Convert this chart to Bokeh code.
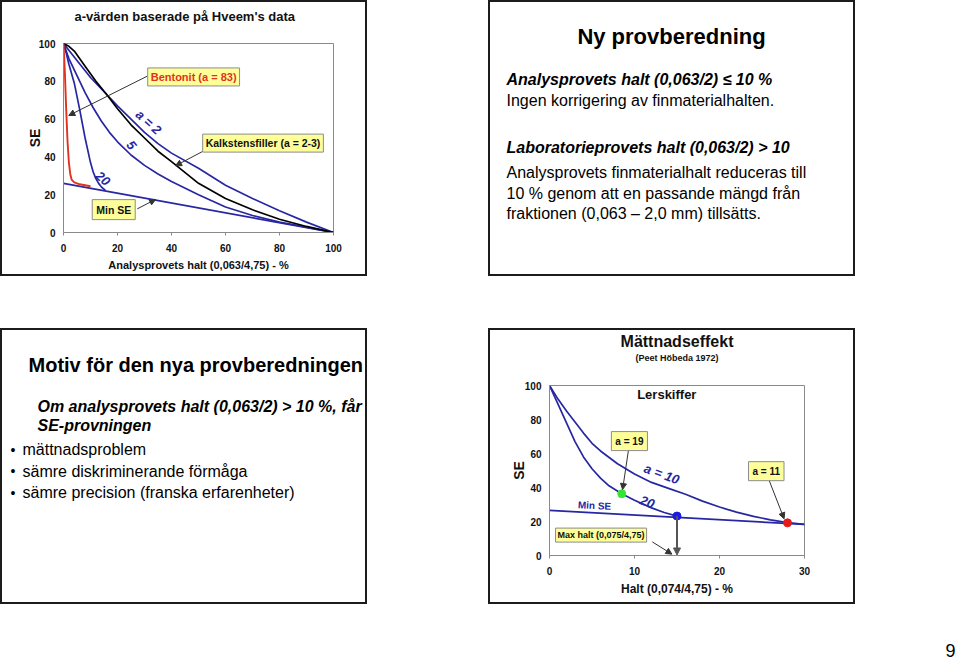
import math
from bokeh.plotting import figure
from bokeh.models import Range1d, Label, Arrow, NormalHead, Spacer, FixedTicker, Title
from bokeh.layouts import row, column
from bokeh.embed import file_html
from bokeh.resources import INLINE
from bokeh.core.properties import value

# ---------------- data: panel A (a-värden, Hveem) ----------------
hveem_ticks = [0, 20, 40, 60, 80, 100]
bentonit_x = [0, 0.5, 1, 1.5, 2, 2.5, 3, 4, 6, 8, 10]
bentonit_y = [100, 85, 65, 48, 37, 31, 28, 26.5, 25.5, 25, 24.5]
a20_x = [0, 1, 2, 4, 6, 8, 10, 11, 12, 13, 14, 15.5]
a20_y = [100, 95, 89, 79, 65, 50, 37, 32, 28.5, 26, 24.2, 22.3]
a5_x = [0, 2, 5, 8, 11, 14, 17, 20, 25, 30, 35, 40, 50, 60, 70, 80, 90, 100]
a5_y = [100, 92, 83, 74, 66, 59, 53, 48, 41, 35.5, 31, 27, 20, 13.5, 9, 5.5, 2.8, 0]
a2_x = [0, 5, 10, 16, 20, 25, 30, 35, 40, 50, 60, 70, 80, 90, 100]
a2_y = [100, 91, 82, 73, 67, 60, 53, 47, 42, 34, 25, 18, 11.5, 5.5, 0]
kalk_x = [0, 2, 4, 8, 12, 16, 20, 25, 30, 35, 40, 50, 60, 70, 80, 90, 100]
kalk_y = [100, 98.5, 96, 88, 80, 73, 65.5, 57, 50, 43, 37.5, 26, 18, 12, 7, 3.2, 0]
minse_a_x = [0, 100]
minse_a_y = [26, 0]

# ---------------- data: panel D (Mättnadseffekt) ----------------
satur_x_ticks = [0, 10, 20, 30]
satur_y_ticks = [0, 20, 40, 60, 80, 100]
l10_x = [0, 1, 2, 3, 4, 5, 6, 8, 10, 12, 14, 16, 18, 20, 22, 24, 26, 28, 30]
l10_y = [100, 92, 85, 78.5, 72, 66, 61.5, 54, 48, 43, 39.5, 36, 32, 28.5, 25.5, 23, 21, 19.3, 18.3]
l20_x = [0, 1, 2, 3, 4, 5, 6, 7, 8.5, 10, 12, 13.5, 15]
l20_y = [100, 89, 78, 67, 58, 51, 45.5, 41, 36.3, 32.5, 28, 25.3, 23.2]
minse_d_x = [0, 30]
minse_d_y = [26.5, 18.3]
point_a19 = (8.5, 36.3)
point_max = (15, 23.2)
point_a11 = (28, 19.2)

# ---------------- texts ----------------
title_a = "a-värden baserade på Hveem's data"
xlabel_a = "Analysprovets halt (0,063/4,75) - %"
title_b = "Ny provberedning"
b_bold = ["Analysprovets halt (0,063/2) \u2264 10 %", "Laboratorieprovets halt (0,063/2) > 10"]
b_plain = ["Ingen korrigering av finmaterialhalten.",
           "Analysprovets finmaterialhalt reduceras till",
           "10 % genom att en passande mängd från",
           "fraktionen (0,063 \u2013 2,0 mm) tillsätts."]
title_c = "Motiv för den nya provberedningen"
c_bold = ["Om analysprovets halt (0,063/2) > 10 %, får", "SE-provningen"]
c_bullets = ["mättnadsproblem", "sämre diskriminerande förmåga",
             "sämre precision (franska erfarenheter)"]
title_d = "Mättnadseffekt"
subtitle_d = "(Peet Höbeda 1972)"
xlabel_d = "Halt (0,074/4,75) - %"
page_number = "9"

FONT = "Liberation Sans"
BLUE = "#2727A3"
RED = "#E0331F"
BOXFILL = "#FFFF99"
W, H = 363, 272          # canvas size; + 2px margin each side = 367 x 276 panel
PANEL_STYLE = {"outline": "2px solid #1c1c1c"}


def no_align(p):
    try:
        p.frame_align = False
    except Exception:
        pass


def chart(xr, yr, ml, mr, mt, mb, xt, yt):
    p = figure(width=W, height=H, x_range=Range1d(*xr), y_range=Range1d(*yr),
               min_border_left=ml, min_border_right=mr, min_border_top=mt,
               min_border_bottom=mb, output_backend="svg", toolbar_location=None,
               margin=(2, 2, 2, 2), styles=PANEL_STYLE)
    no_align(p)
    p.grid.visible = False
    p.outline_line_color = "#8a8a8a"
    p.outline_line_width = 1
    p.xaxis.ticker = FixedTicker(ticks=xt)
    p.yaxis.ticker = FixedTicker(ticks=yt)
    for ax in (p.xaxis[0], p.yaxis[0]):
        ax.axis_line_color = "#8a8a8a"
        ax.major_tick_line_color = "#8a8a8a"
        ax.major_tick_out = 3
        ax.major_tick_in = 0
        ax.minor_tick_out = 0
        ax.minor_tick_in = 0
        ax.major_label_text_font = FONT
        ax.major_label_text_font_style = "bold"
        ax.major_label_text_font_size = "10px"
        ax.major_label_text_color = "#111111"
        ax.axis_label_text_font = FONT
        ax.axis_label_text_font_style = "bold"
        ax.axis_label_text_color = "#111111"
    p.xaxis.major_label_standoff = 8
    p.yaxis.major_label_standoff = 8
    p.yaxis.major_tick_out = 0
    return p


def lab(p, x, y, text, size, style="bold", color="#111111", angle=0.0, align="center", **kw):
    p.add_layout(Label(x=x, y=y, text=text, text_font=FONT, text_font_size=size,
                       text_font_style=style, text_color=color, angle=angle,
                       text_align=align, text_baseline="middle", **kw))


def boxlab(p, x, y, text, size, color="#111111", pad=3):
    lab(p, x, y, text, size, color=color, background_fill_color=BOXFILL,
        border_line_color="#8c8c8c", border_line_width=1, padding=pad)


def arrow(p, x0, y0, x1, y1, color="#333333", width=1.0, size=6):
    p.add_layout(Arrow(end=NormalHead(size=size, fill_color=color, line_color=color),
                       x_start=x0, y_start=y0, x_end=x1, y_end=y1,
                       line_color=color, line_width=width))


def set_title(t, text, size, align, offset, standoff):
    t.text = text
    t.text_font = FONT
    t.text_font_size = size
    t.text_font_style = "bold"
    t.text_color = "#111111"
    t.align = align
    t.offset = offset
    t.standoff = standoff
    t.vertical_align = "bottom"


def gap_panel(p, height):
    # an empty title panel used only as vertical space between frame and titles
    g = Title(text=" ", text_font_size="1px", standoff=height)
    p.add_layout(g, "above")


# ---------------- panel A ----------------
pA = chart((0, 100), (0, 100), 61, 32, 41, 42, hveem_ticks, hveem_ticks)
gap_panel(pA, 17)
set_title(pA.title, title_a, "13px", "left", 11, 0)
pA.xaxis.axis_label = xlabel_a
pA.xaxis.axis_label_text_font_size = "11px"
pA.xaxis.axis_label_standoff = 4
pA.yaxis.axis_label = "SE"
pA.yaxis.axis_label_text_font_size = "14px"
pA.yaxis.axis_label_standoff = -7
pA.line(minse_a_x, minse_a_y, line_color=BLUE, line_width=1.7)
pA.line(a2_x, a2_y, line_color=BLUE, line_width=1.7)
pA.line(a5_x, a5_y, line_color=BLUE, line_width=1.7)
pA.line(a20_x, a20_y, line_color=BLUE, line_width=1.7)
pA.line(kalk_x, kalk_y, line_color="#000000", line_width=1.7)
pA.line(bentonit_x, bentonit_y, line_color=RED, line_width=1.9)
lab(pA, 31.5, 58.4, "a = 2", "13px", style="bold italic", color=BLUE, angle=math.radians(-42))
lab(pA, 25.2, 46.2, "5", "13px", style="bold italic", color=BLUE, angle=math.radians(-50))
lab(pA, 14.6, 28.6, "20", "13px", style="bold italic", color=BLUE, angle=math.radians(-40))
arrow(pA, 31.0, 82.7, 1.96, 61.9)
arrow(pA, 52.2, 43.4, 41.5, 35.3)
arrow(pA, 27.3, 12.5, 34.1, 17.5)
boxlab(pA, 48.2, 82.3, "Bentonit (a = 83)", "11px", color=RED)
boxlab(pA, 73.9, 47.3, "Kalkstensfiller (a = 2-3)", "10.5px")
boxlab(pA, 18.6, 12.1, "Min SE", "10.5px", pad=4)


# ---------------- text panels ----------------
def text_panel():
    p = figure(width=W, height=H, x_range=Range1d(2, 2 + W), y_range=Range1d(2 + H, 2),
               min_border=0, x_axis_type=None, y_axis_type=None,
               output_backend="svg", toolbar_location=None,
               margin=(2, 2, 2, 2), styles=PANEL_STYLE)
    no_align(p)
    p.grid.visible = False
    p.outline_line_color = None
    return p


def ptext(p, xs, ys, texts, size, style="normal", align="left"):
    p.text(x=xs, y=ys, text=texts, text_font=value(FONT), text_font_size=size,
           text_font_style=style, text_color="#000000", text_align=align,
           text_baseline="middle")


pB = text_panel()
ptext(pB, [183], [36], [title_b], "22px", style="bold", align="center")
ptext(pB, [18, 18], [79, 147], b_bold, "16px", style="bold italic")
ptext(pB, [18, 18, 18, 18], [100, 171.5, 192.5, 213], b_plain, "16px")

pC = text_panel()
ptext(pC, [28], [36], [title_c], "20px", style="bold")
ptext(pC, [37, 37], [78, 97], c_bold, "16px", style="bold italic")
ptext(pC, [10, 10, 10], [121, 142.5, 164], ["\u2022"] * 3, "14px")
ptext(pC, [22, 22, 22], [121, 142.5, 164], c_bullets, "16px")

# ---------------- panel D ----------------
pD = chart((0, 30), (0, 100), 59, 49, 55, 47, satur_x_ticks, satur_y_ticks)
gap_panel(pD, 19)
sub = Title()
set_title(sub, subtitle_d, "9px", "center", 0, 2)
pD.add_layout(sub, "above")
set_title(pD.title, title_d, "16px", "center", 0, 0)
pD.xaxis.axis_label = xlabel_d
pD.xaxis.axis_label_text_font_size = "12px"
pD.xaxis.axis_label_standoff = 4
pD.yaxis.axis_label = "SE"
pD.yaxis.axis_label_text_font_size = "14px"
pD.yaxis.axis_label_standoff = -5
pD.line(minse_d_x, minse_d_y, line_color=BLUE, line_width=1.7)
pD.line(l10_x, l10_y, line_color=BLUE, line_width=1.7)
pD.line(l20_x, l20_y, line_color=BLUE, line_width=1.7)
arrow(pD, point_max[0], point_max[1], point_max[0], 0.3, color="#555555", width=2, size=7)
pD.scatter([point_a19[0]], [point_a19[1]], size=8, color="#33E633")
pD.scatter([point_max[0]], [point_max[1]], size=8, color="#1A1AE6")
pD.scatter([point_a11[0]], [point_a11[1]], size=8, color="#E61A1A")
lab(pD, 13.8, 95, "Lerskiffer", "13px")
lab(pD, 13.2, 48.0, "a = 10", "13px", style="bold italic", color=BLUE, angle=math.radians(-20))
lab(pD, 11.5, 31.5, "20", "13px", style="bold italic", color=BLUE, angle=math.radians(-20))
lab(pD, 5.3, 29.4, "Min SE", "10px", color=BLUE, angle=math.radians(-3))
arrow(pD, 9.3, 62.4, 8.6, 38.8)
arrow(pD, 25.8, 44.7, 27.6, 21.6)
arrow(pD, 12.1, 8.0, 14.4, 0.8)
boxlab(pD, 9.4, 67.3, "a = 19", "10px", pad=4)
boxlab(pD, 25.5, 49.6, "a = 11", "10px", pad=4)
boxlab(pD, 6.07, 12.0, "Max halt (0,075/4,75)", "9px", pad=2)

# ---------------- page number ----------------
pN = figure(width=24, height=60, x_range=Range1d(0, 24), y_range=Range1d(60, 0),
            min_border=0, x_axis_type=None, y_axis_type=None,
            output_backend="svg", toolbar_location=None)
no_align(pN)
pN.grid.visible = False
pN.outline_line_color = None
pN.text(x=[23], y=[46], text=[page_number], text_font=value(FONT), text_font_size="18px",
        text_align="right", text_baseline="middle", text_color="#000000")

layout = column(
    row(pA, Spacer(width=121, height=276), column(pB)),
    Spacer(width=855, height=52),
    row(column(pC), Spacer(width=121, height=276), pD),
    row(Spacer(width=932, height=60), pN),
)

open("out.html", "w").write(file_html(layout, INLINE))
